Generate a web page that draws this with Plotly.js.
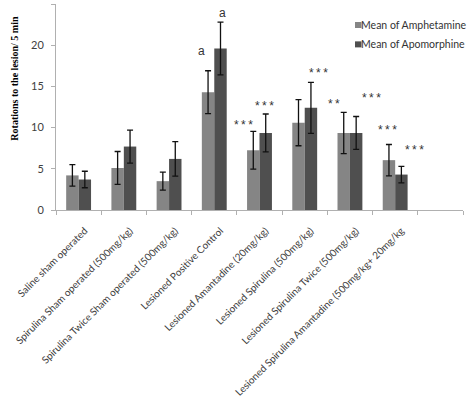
<!DOCTYPE html>
<html><head><meta charset="utf-8">
<script src="https://cdn.plot.ly/plotly-3.0.1.min.js"></script>
<style>html,body{margin:0;padding:0;background:#fff}#chart{width:472px;height:403px}</style>
</head><body><div id="chart"></div>
<script>
const categories = [
  "Saline sham operated",
  "Spirulina Sham operated (500mg/kg)",
  "Spirulina Twice Sham operated (500mg/kg)",
  "Lesioned Positive Control",
  "Lesioned Amantadine (20mg/kg)",
  "Lesioned Spirulina (500mg/kg)",
  "Lesioned Spirulina Twice (500mg/kg)",
  "Lesioned Spirulina Amantadine (500mg/kg+ 20mg/kg"
];
const seriesNames    = ["Mean of Amphetamine", "Mean of Apomorphine"];
const amphetamine    = [4.2, 5.1, 3.5, 14.3, 7.25, 10.6, 9.35, 6.05];
const amphetamineErr = [1.3, 2.0, 1.1, 2.6, 2.3, 2.8, 2.5, 1.9];
const apomorphine    = [3.7, 7.7, 6.2, 19.6, 9.35, 12.4, 9.35, 4.3];
const apomorphineErr = [1.0, 2.0, 2.1, 3.2, 2.3, 3.1, 2.0, 1.0];
const yTicks = [0, 5, 10, 15, 20, 25];

const sigLabels = [
  {text: "a",   x: 2.72, y: 19.3},
  {text: "a",   x: 3.18, y: 23.9},
  {text: "***", x: 3.65, y: 10.3},
  {text: "***", x: 4.10, y: 12.65},
  {text: "***", x: 5.31, y: 16.6},
  {text: "**",  x: 5.64, y: 12.9},
  {text: "***", x: 6.48, y: 13.6},
  {text: "***", x: 6.83, y: 9.7},
  {text: "***", x: 7.43, y: 7.25}
];

const colors = ["#858585", "#4f4f4f"];
const font = "Lato, 'Liberation Sans', sans-serif";
const traces = [
  {type: "bar", name: seriesNames[0], x: categories, y: amphetamine,
   marker: {color: colors[0]}, showlegend: false,
   error_y: {type: "data", array: amphetamineErr, visible: true, color: "#111", thickness: 1.3, width: 3}},
  {type: "bar", name: seriesNames[1], x: categories, y: apomorphine,
   marker: {color: colors[1]}, showlegend: false,
   error_y: {type: "data", array: apomorphineErr, visible: true, color: "#111", thickness: 1.3, width: 3}}
];

const annotations = sigLabels.map(s => ({
  x: s.x, y: s.y, xref: "x", yref: "y", xanchor: "center", yanchor: "middle",
  text: s.text === "a" ? s.text : s.text.split("").join("\u2009"), showarrow: false,
  font: {family: "'Liberation Sans', sans-serif", size: 12, color: "#333"}
}));
annotations.push({
  xref: "paper", yref: "paper", x: -0.103, y: 0.638, xanchor: "center", yanchor: "middle",
  textangle: -90, showarrow: false,
  text: "<b>Rotations to the lesion/ 5 min</b>",
  font: {family: "'Liberation Serif', 'Times New Roman', serif", size: 10, color: "#000"}
});

// custom legend (placed like the reference)
const legendRows = [0.898, 0.804];
const shapes = [];
seriesNames.forEach((n, i) => {
  annotations.push({xref: "paper", yref: "paper", x: 0.745, y: legendRows[i],
    xanchor: "left", yanchor: "middle", showarrow: false, text: n,
    font: {family: font, size: 10.5, color: "#333"}});
  shapes.push({type: "rect", xref: "paper", yref: "paper",
    x0: 0.7346, x1: 0.7506, y0: legendRows[i] - 0.0146, y1: legendRows[i] + 0.0146,
    fillcolor: colors[i], line: {width: 0}});
});

const layout = {
  width: 472, height: 403,
  margin: {l: 56, r: 9, t: 4, b: 193},
  paper_bgcolor: "#fff", plot_bgcolor: "#fff",
  barmode: "group", bargap: 0.45, bargroupgap: 0,
  font: {family: font, size: 10, color: "#404040"},
  showlegend: false,
  xaxis: {type: "category", categoryorder: "array", categoryarray: categories.concat([" "]),
          range: [-0.5, 8.5], showline: true, linecolor: "#b0b0b0", linewidth: 1,
          ticks: "outside", tickson: "boundaries", ticklen: 4, tickcolor: "#b0b0b0",
          tickangle: -45, showgrid: false, zeroline: false,
          ticklabelshift: 6, ticklabelstandoff: 10,
          tickfont: {family: font, size: 10, color: "#404040"}},
  yaxis: {range: [0, 25], tickvals: yTicks, showline: true, linecolor: "#b0b0b0", linewidth: 1,
          ticks: "outside", ticklen: 4, tickcolor: "#b0b0b0", showgrid: false, zeroline: false,
          ticklabelstandoff: 5,
          tickfont: {family: font, size: 11, color: "#404040"}},
  annotations: annotations,
  shapes: shapes
};

Plotly.newPlot("chart", traces, layout, {displayModeBar: false, staticPlot: true});
</script>
</body></html>
